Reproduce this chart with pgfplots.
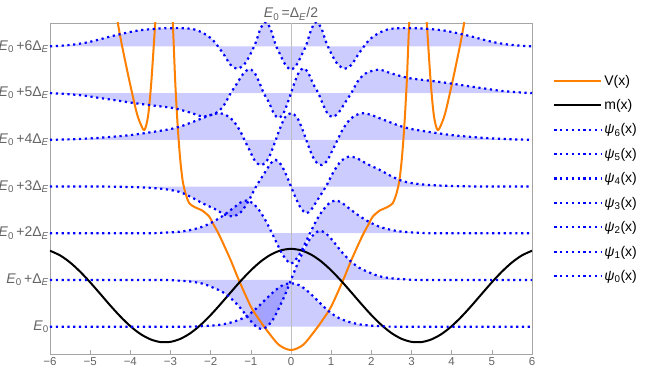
\documentclass[border=0pt]{standalone}
\usepackage{fontspec}
\setmainfont{Liberation Sans}
\usepackage{pgfplots}
\usepackage{pgfplotstable}
\pgfplotsset{compat=1.18}
\definecolor{vorange}{RGB}{255,127,0}
\definecolor{txtgray}{RGB}{100,100,100}
\definecolor{framegray}{RGB}{165,165,165}

% energy levels: E0 = 0.5, spacing 1
\pgfplotstableread{
x y
-6 0.5
-2.7 0.5
-2.3 0.508
-1.95 0.525
-1.7 0.55
-1.45 0.6
-1.2 0.68
-1.0 0.79
-0.8 0.94
-0.6 1.11
-0.4 1.27
-0.2 1.39
0 1.43
0.2 1.39
0.4 1.27
0.6 1.11
0.8 0.94
1.0 0.79
1.2 0.68
1.45 0.6
1.7 0.55
1.95 0.525
2.3 0.508
2.7 0.5
6 0.5
}\psiA
\pgfplotstableread{
x y
-6 1.5
-3.3 1.5
-2.9 1.49
-2.5 1.465
-2.2 1.42
-1.95 1.34
-1.7 1.24
-1.5 1.11
-1.3 0.94
-1.15 0.78
-1.0 0.62
-0.85 0.49
-0.72 0.45
-0.6 0.5
-0.45 0.65
-0.3 0.9
-0.15 1.18
0 1.5
0.15 1.82
0.3 2.1
0.45 2.35
0.6 2.5
0.72 2.55
0.85 2.51
1.0 2.38
1.15 2.22
1.3 2.06
1.5 1.89
1.7 1.76
1.95 1.66
2.2 1.58
2.5 1.535
2.9 1.51
3.3 1.5
6 1.5
}\psiB
\pgfplotstableread{
x y
-6 2.5
-3.6 2.5
-3.2 2.51
-2.8 2.53
-2.5 2.57
-2.2 2.64
-1.95 2.74
-1.7 2.87
-1.45 3.03
-1.25 3.16
-1.1 3.2
-0.95 3.14
-0.8 3.0
-0.65 2.8
-0.5 2.55
-0.35 2.28
-0.2 2.03
0 1.85
0.2 2.03
0.35 2.28
0.5 2.55
0.65 2.8
0.8 3.0
0.95 3.14
1.1 3.2
1.25 3.16
1.45 3.03
1.7 2.87
1.95 2.74
2.2 2.64
2.5 2.57
2.8 2.53
3.2 2.51
3.6 2.5
6 2.5
}\psiC
\pgfplotstableread{
x y
-6 3.5
-5 3.5
-4.3 3.495
-3.7 3.48
-3.2 3.45
-2.8 3.39
-2.5 3.28
-2.2 3.14
-1.9 3.02
-1.65 2.9
-1.45 2.86
-1.25 2.95
-1.05 3.2
-0.87 3.5
-0.65 3.8
-0.5 4.0
-0.38 4.07
-0.25 3.97
-0.12 3.75
0 3.5
0.12 3.25
0.25 3.03
0.38 2.93
0.5 3.0
0.65 3.2
0.87 3.5
1.05 3.8
1.25 4.05
1.45 4.14
1.65 4.1
1.9 3.98
2.2 3.86
2.5 3.72
2.8 3.61
3.2 3.55
3.7 3.52
4.3 3.505
5 3.5
6 3.5
}\psiD
\pgfplotstableread{
x y
-6 4.5
-5.5 4.51
-5.0 4.53
-4.5 4.56
-4.0 4.6
-3.5 4.66
-3.0 4.73
-2.7 4.8
-2.3 4.93
-2.0 5.03
-1.8 5.07
-1.62 5.03
-1.45 4.92
-1.28 4.71
-1.16 4.5
-1.04 4.29
-0.9 4.05
-0.77 3.96
-0.65 4.0
-0.54 4.14
-0.42 4.4
-0.29 4.71
-0.15 4.98
0 5.07
0.15 4.98
0.29 4.71
0.42 4.4
0.54 4.14
0.65 4.0
0.77 3.96
0.9 4.05
1.04 4.29
1.16 4.5
1.28 4.71
1.45 4.92
1.62 5.03
1.8 5.07
2.0 5.03
2.3 4.93
2.7 4.8
3.0 4.73
3.5 4.66
4.0 4.6
4.5 4.56
5.0 4.53
5.5 4.51
6 4.5
}\psiE
\pgfplotstableread{
x y
-6 5.5
-5.6 5.48
-5.2 5.45
-4.8 5.4
-4.4 5.35
-3.94 5.29
-3.5 5.24
-2.94 5.18
-2.5 5.08
-2.2 5.0
-1.9 5.06
-1.7 5.2
-1.5 5.5
-1.35 5.7
-1.2 5.9
-1.05 6.01
-0.92 5.95
-0.8 5.75
-0.68 5.5
-0.55 5.3
-0.42 5.05
-0.31 4.97
-0.2 5.05
-0.1 5.25
0 5.5
0.1 5.75
0.2 5.95
0.31 6.03
0.42 5.95
0.55 5.7
0.68 5.5
0.8 5.25
0.92 5.05
1.05 4.99
1.2 5.1
1.35 5.3
1.5 5.5
1.7 5.8
1.9 5.94
2.2 6.0
2.5 5.92
2.94 5.82
3.5 5.76
3.94 5.71
4.4 5.65
4.8 5.6
5.2 5.55
5.6 5.52
6 5.5
}\psiF
\pgfplotstableread{
x y
-6 6.5
-5.7 6.515
-5.4 6.54
-5.1 6.58
-4.8 6.64
-4.5 6.71
-4.2 6.77
-3.8 6.84
-3.3 6.88
-2.8 6.89
-2.45 6.87
-2.2 6.79
-1.95 6.64
-1.7 6.36
-1.5 6.1
-1.33 6.02
-1.15 6.13
-1.0 6.35
-0.87 6.6
-0.75 6.9
-0.62 7.02
-0.5 6.85
-0.37 6.5
-0.29 6.36
-0.15 6.12
0 6.0
0.15 6.12
0.29 6.36
0.37 6.5
0.5 6.85
0.62 7.02
0.75 6.9
0.87 6.6
1.0 6.35
1.15 6.13
1.33 6.02
1.5 6.1
1.7 6.36
1.95 6.64
2.2 6.79
2.45 6.87
2.8 6.89
3.3 6.88
3.8 6.84
4.2 6.77
4.5 6.71
4.8 6.64
5.1 6.58
5.4 6.54
5.7 6.515
6 6.5
}\psiG

\pgfplotsset{
  psi/.style={blue, line width=2.2pt, dash pattern=on 2.2pt off 3.6pt, smooth},
  psifill/.style={draw=none, fill=blue, fill opacity=0.2, smooth, forget plot},
}

\begin{document}
\begin{tikzpicture}
\useasboundingbox (-50pt,-28pt) rectangle (604pt,354pt);
\begin{axis}[
    at={(0,0)}, anchor=south west,
    scale only axis,
    width=482pt, height=331pt,
    xmin=-6, xmax=6,
    ymin=-0.085, ymax=7.0,
    axis line style={framegray, line width=0.6pt},
    xtick={-6,-5,...,6},
    xticklabels={−6,−5,−4,−3,−2,−1,0,1,2,3,4,5,6},
    xtick pos=lower,
    tick align=inside,
    major tick length=4pt,
    x tick style={framegray, line width=0.6pt},
    xticklabel style={text=txtgray, font=\fontsize{11.5}{13}\selectfont},
    ytick={0.5,1.5,...,6.5},
    yticklabels={
      {\textit{E}\textsubscript{0}},
      {\textit{E}\textsubscript{0}\,+Δ\textsubscript{\textit{E}}},
      {\textit{E}\textsubscript{0}\,+2Δ\textsubscript{\textit{E}}},
      {\textit{E}\textsubscript{0}\,+3Δ\textsubscript{\textit{E}}},
      {\textit{E}\textsubscript{0}\,+4Δ\textsubscript{\textit{E}}},
      {\textit{E}\textsubscript{0}\,+5Δ\textsubscript{\textit{E}}},
      {\textit{E}\textsubscript{0}\,+6Δ\textsubscript{\textit{E}}}},
    ytick pos=left,
    y tick style={draw=none},
    yticklabel style={text=txtgray, font=\fontsize{14}{16}\selectfont, inner sep=1pt},
    legend style={at={(1,0.5)}, anchor=west, xshift=18pt, yshift=10pt, draw=none, fill=none,
      font=\fontsize{14}{16}\selectfont, row sep=8.8pt, cells={anchor=west}},
    legend image code/.code={\draw[#1] (0pt,0pt) -- (47pt,0pt);},
    legend cell align=left,
]
% light filling between each state and its level
\addplot[psifill] table {\psiG};
\addplot[psifill] table {\psiF};
\addplot[psifill] table {\psiE};
\addplot[psifill] table {\psiD};
\addplot[psifill] table {\psiC};
\addplot[psifill] table {\psiB};
\addplot[psifill] table {\psiA};
\addplot[forget plot, color={rgb,255:red,190;green,190;blue,190}, line width=0.6pt] coordinates {(0,-0.085) (0,7)};

\addplot[vorange, line width=2pt, smooth] coordinates {
 (-4.6,9.5) (-4.45,8) (-4.31,7.0) (-4.1,6.07) (-3.86,5.14) (-3.75,4.85) (-3.65,4.71)
 (-3.56,5.0) (-3.48,5.71) (-3.38,7.0) (-3.3,8.0) (-3.15,9.0) (-3.0,8.2) (-2.97,7.5)
 (-2.93,6.75) (-2.88,5.7) (-2.82,4.78) (-2.76,4.1) (-2.7,3.64) (-2.65,3.43) (-2.6,3.28)
 (-2.53,3.14) (-2.4,3.06) (-2.2,2.98) (-2.03,2.85) (-1.95,2.72) (-1.78,2.45) (-1.5,1.92)
 (-1.3,1.5) (-1.0,0.93) (-0.8,0.66) (-0.6,0.42) (-0.3,0.11) (0,0)
 (0.3,0.11) (0.6,0.42) (0.8,0.66) (1.0,0.93) (1.3,1.5) (1.5,1.92) (1.78,2.45)
 (1.95,2.72) (2.03,2.85) (2.2,2.98) (2.4,3.06) (2.53,3.14) (2.6,3.28) (2.65,3.43)
 (2.7,3.64) (2.76,4.1) (2.82,4.78) (2.88,5.7) (2.93,6.75) (2.97,7.5) (3.0,8.2)
 (3.15,9.0) (3.3,8.0) (3.38,7.0) (3.48,5.71) (3.56,5.0) (3.65,4.71) (3.75,4.85)
 (3.86,5.14) (4.1,6.07) (4.31,7.0) (4.45,8) (4.6,9.5)
};
\addlegendentry{V(x)}

\addplot[black, line width=2pt, smooth] coordinates {
 (-6,2.125) (-5.75,2.026) (-5.5,1.874) (-5.25,1.677) (-5,1.449) (-4.75,1.203)
 (-4.5,0.954) (-4.25,0.719) (-4,0.511) (-3.75,0.344) (-3.5,0.229) (-3.25,0.171)
 (-3,0.175) (-2.75,0.241) (-2.5,0.364) (-2.25,0.537) (-2,0.749) (-1.75,0.987)
 (-1.5,1.236) (-1.25,1.480) (-1,1.705) (-0.75,1.897) (-0.5,2.043) (-0.25,2.134)
 (0,2.165) (0.25,2.134) (0.5,2.043) (0.75,1.897) (1,1.705) (1.25,1.480)
 (1.5,1.236) (1.75,0.987) (2,0.749) (2.25,0.537) (2.5,0.364) (2.75,0.241)
 (3,0.175) (3.25,0.171) (3.5,0.229) (3.75,0.344) (4,0.511) (4.25,0.719)
 (4.5,0.954) (4.75,1.203) (5,1.449) (5.25,1.677) (5.5,1.874) (5.75,2.026) (6,2.125)
};
\addlegendentry{m(x)}

\addplot[psi] table {\psiG};
\addlegendentry{\textit{ψ}\textsubscript{6}(x)}
\addplot[psi] table {\psiF};
\addlegendentry{\textit{ψ}\textsubscript{5}(x)}
\addplot[psi] table {\psiE};
\addlegendentry{\textit{ψ}\textsubscript{4}(x)}
\addplot[psi] table {\psiD};
\addlegendentry{\textit{ψ}\textsubscript{3}(x)}
\addplot[psi] table {\psiC};
\addlegendentry{\textit{ψ}\textsubscript{2}(x)}
\addplot[psi] table {\psiB};
\addlegendentry{\textit{ψ}\textsubscript{1}(x)}
\addplot[psi] table {\psiA};
\addlegendentry{\textit{ψ}\textsubscript{0}(x)}
\end{axis}
\node[anchor=base, text=txtgray, font=\fontsize{14}{16}\selectfont] at (241pt,336pt)
  {\textit{E}\textsubscript{0}\,=Δ\textsubscript{\textit{E}}/2};
\end{tikzpicture}
\end{document}
